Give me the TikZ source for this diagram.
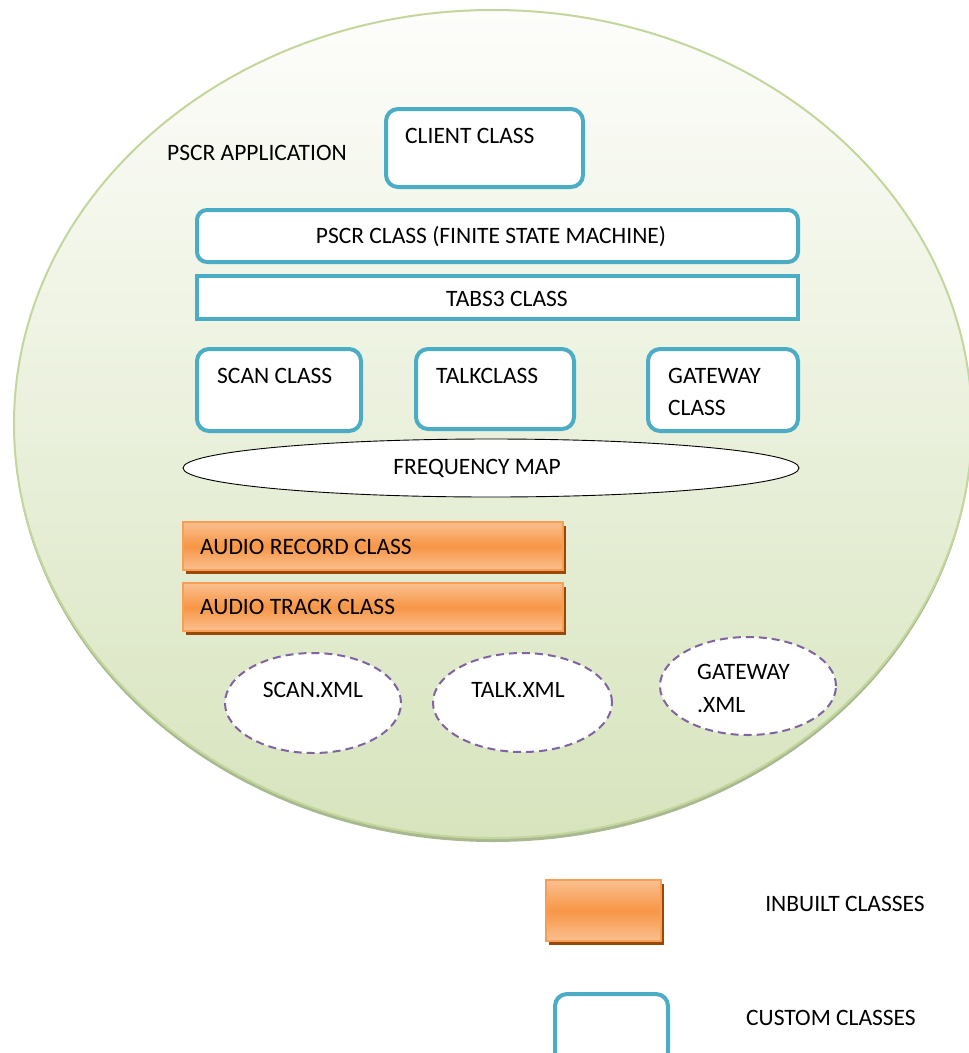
\documentclass[tikz,border=0pt]{standalone}
\usepackage{fontspec}
\setmainfont{Carlito}
\usetikzlibrary{shapes.geometric,calc}

\definecolor{custblue}{HTML}{4BACC6}
\definecolor{appgreen}{HTML}{C3D69B}
\definecolor{appfill}{HTML}{D7E4BD}
\definecolor{apptop}{HTML}{FDFDFB}
\definecolor{appshadow}{HTML}{A8B890}
\definecolor{orlight}{HTML}{FAC090}
\definecolor{ormain}{HTML}{F79646}
\definecolor{orshadow}{HTML}{984807}
\definecolor{xmlpurple}{HTML}{8064A2}

\tikzset{
  label/.style={font=\fontsize{23.5}{28}\selectfont, inner sep=0pt, text=black},
  custombox/.style={draw=custblue, line width=4pt, fill=white, rounded corners=12pt, inner sep=0pt},
  flatbox/.style={draw=custblue, line width=4pt, fill=white, inner sep=0pt},
  inbuilt/.style={draw=ormain!80!orlight, line width=1.2pt, inner sep=0pt,
    top color=orlight, bottom color=orlight, middle color=ormain,
    preaction={fill=orshadow, transform canvas={shift={(3pt,-4pt)}}}},
  xmlfile/.style={ellipse, draw=xmlpurple, line width=2pt, dash pattern=on 8pt off 5pt,
    fill=white, inner sep=0pt},
}

\begin{document}
\begin{tikzpicture}[x=1pt,y=-1pt]
\useasboundingbox (0,0) rectangle (969,1053);
\clip (0,0) rectangle (969,1053);

% application boundary with its soft shadow
\node[ellipse, fill=appshadow, minimum width=958pt, minimum height=828pt, inner sep=0pt] (appshade) at (493,428) {};
\node[ellipse, draw=appgreen, line width=2pt, top color=apptop, bottom color=appfill,
  minimum width=958pt, minimum height=828pt, inner sep=0pt] (app) at (493,424) {};
\node[label, anchor=west] (apptitle) at (167,153) {PSCR APPLICATION};

% custom classes
\node[custombox, minimum width=197pt, minimum height=78pt] (client) at (484.5,148) {};
\node[label, anchor=west] (clienttxt) at ($(client.north west)+(21,29)$) {CLIENT CLASS};

\node[custombox, rounded corners=10pt, minimum width=601pt, minimum height=52pt] (pscr) at (497.5,236) {};
\node[label] (pscrtxt) at (491,237) {PSCR CLASS (FINITE STATE MACHINE)};

\node[flatbox, minimum width=601pt, minimum height=43pt] (tabs) at (497.5,297.5) {};
\node[label] (tabstxt) at (507,299) {TABS3 CLASS};

\node[custombox, minimum width=164pt, minimum height=82pt] (scan) at (279,390) {};
\node[label, anchor=west] (scantxt) at ($(scan.north west)+(22,29)$) {SCAN CLASS};

\node[custombox, minimum width=158pt, minimum height=80pt] (talk) at (495,389) {};
\node[label, anchor=west] (talktxt) at ($(talk.north west)+(22,29)$) {TALKCLASS};

\node[custombox, minimum width=150pt, minimum height=82pt] (gateway) at (723,390) {};
\node[label, anchor=west, align=left] (gatewaytxt) at ($(gateway.north west)+(22,45)$) {GATEWAY\\[4pt]CLASS};

% shared frequency map
\node[ellipse, draw=black, line width=0.9pt, fill=white, minimum width=616pt, minimum height=58pt, inner sep=0pt] (freq) at (491,468) {};
\node[label] (freqtxt) at (477,468) {FREQUENCY MAP};

% inbuilt classes
\node[inbuilt, minimum width=380pt, minimum height=48pt] (record) at (373,546) {};
\node[label, anchor=west] (recordtxt) at (200,547) {AUDIO RECORD CLASS};

\node[inbuilt, minimum width=380pt, minimum height=48pt] (track) at (373,607) {};
\node[label, anchor=west] (tracktxt) at (200,607) {AUDIO TRACK CLASS};

% xml configuration files
\node[xmlfile, minimum width=176pt, minimum height=100pt] (scanxml) at (313,703) {};
\node[label] (scanxmltxt) at (313,690) {SCAN.XML};

\node[xmlfile, minimum width=179pt, minimum height=99pt] (talkxml) at (522.5,702.5) {};
\node[label] (talkxmltxt) at (518,690) {TALK.XML};

\node[xmlfile, minimum width=176pt, minimum height=98pt] (gatewayxml) at (748,686) {};
\node[label, anchor=west, align=left] (gatewayxmltxt) at (697,688.5) {GATEWAY\\[5pt].XML};

% legend
\node[inbuilt, minimum width=115pt, minimum height=61pt] (leginbuilt) at (603.5,910.5) {};
\node[label] (leginbuilttxt) at (845,904) {INBUILT CLASSES};

\node[custombox, minimum width=113pt, minimum height=70pt] (legcustom) at (611.5,1029) {};
\node[label] (legcustomtxt) at (831,1018) {CUSTOM CLASSES};
\end{tikzpicture}
\end{document}
